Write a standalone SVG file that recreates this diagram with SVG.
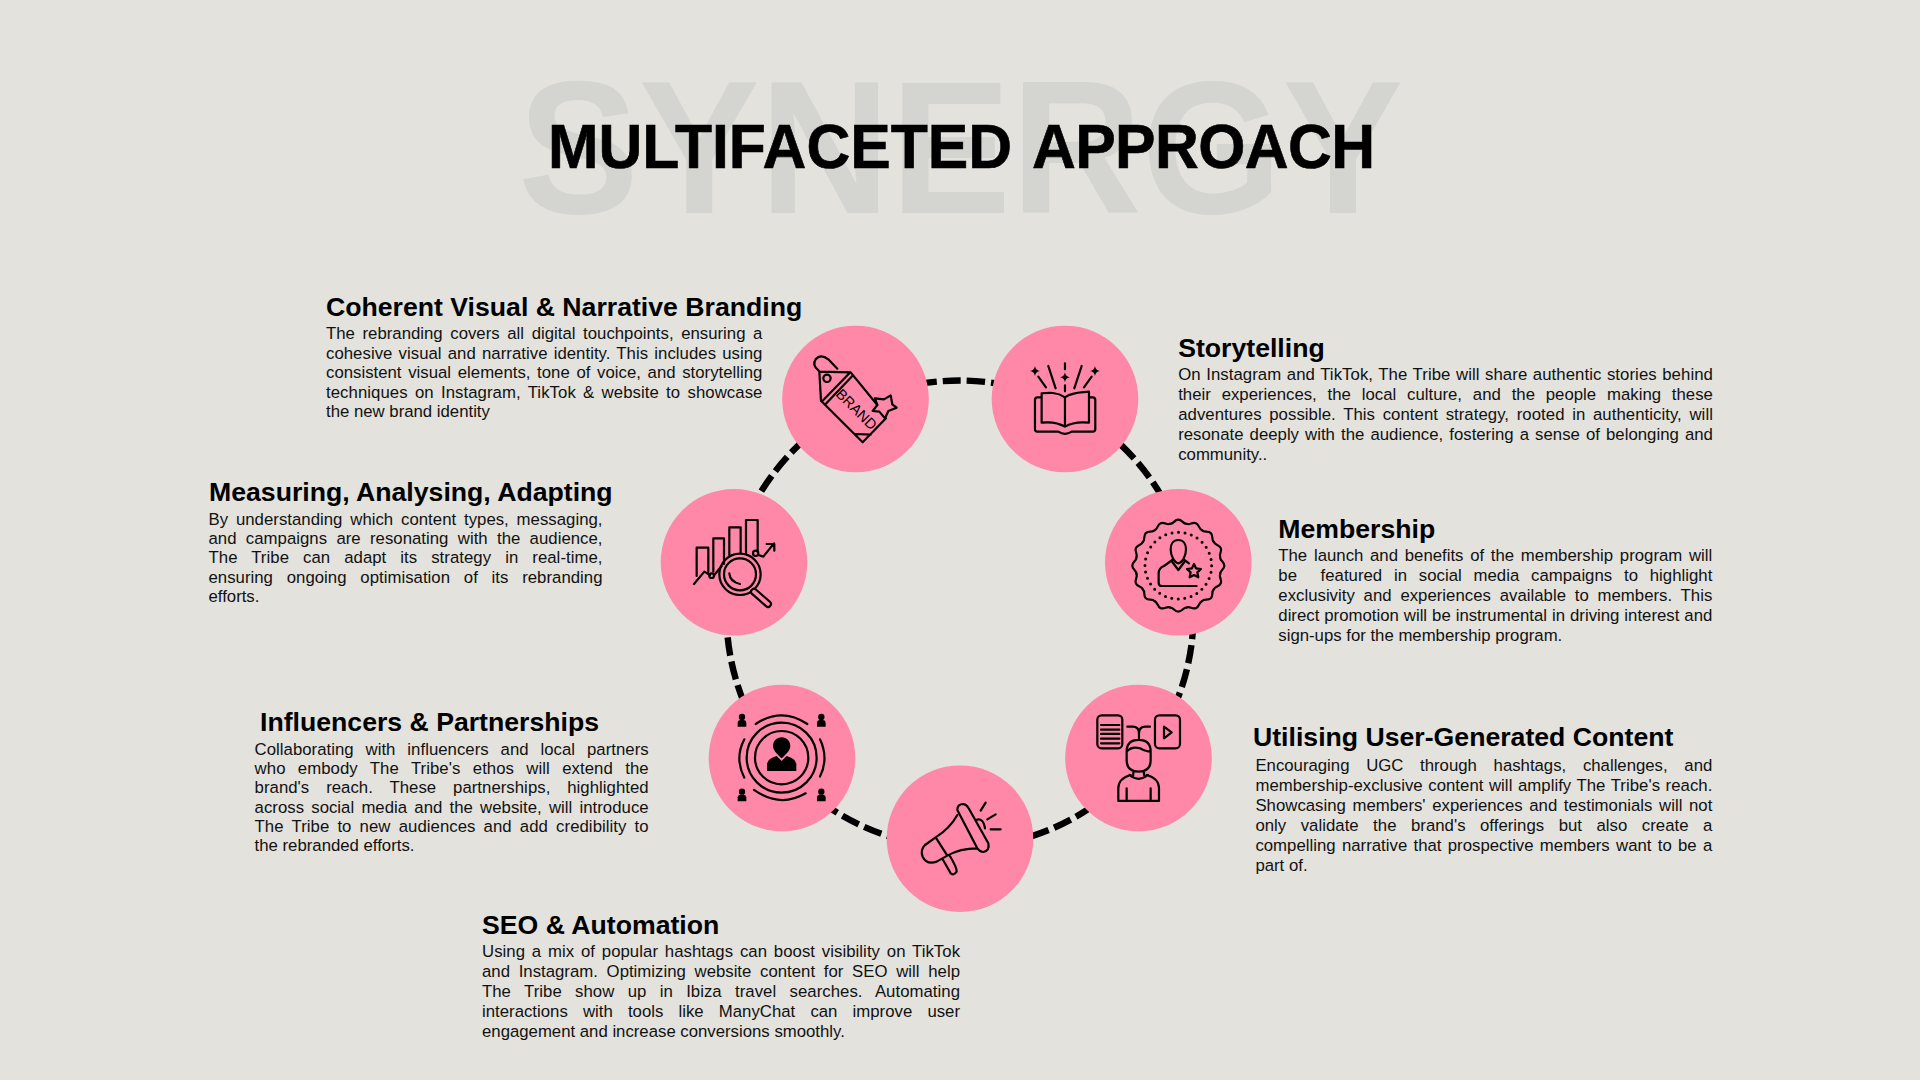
<svg xmlns="http://www.w3.org/2000/svg" width="1920" height="1080" viewBox="0 0 1920 1080">
<style>
text{font-family:"Liberation Sans",Arial,sans-serif;fill:#000;white-space:pre}
.h{font-size:26.65px;font-weight:700}
.b{font-size:16.75px;fill:#111}
.n{fill:#ff87a8}
.i{fill:none;stroke:#000;stroke-width:6.6;stroke-linecap:round;stroke-linejoin:round}
.f{fill:#000;stroke:none}
</style>
<defs>
<path id="lobe" d="M-25,-125.5C-14,-125 -12,-138 0,-138C12,-138 14,-125 25,-125.5"/>
<path id="spark" class="f" d="M0,-15Q2,-2 15,0Q2,2 0,15Q-2,2 -15,0Q-2,-2 0,-15Z"/>
<g id="mini" class="f"><circle cx="0" cy="0" r="9.5"/><path d="M-13,29V17Q-13,10 -5,9H5Q13,10 13,17V29Z"/></g>
</defs>
<rect width="1920" height="1080" fill="#e3e2dd"/>
<g id="title">
<text transform="translate(518 213) scale(1 1.05)" style="font-size:181px;font-weight:700;fill:#d4d4d0">SYNERGY</text>
<text transform="translate(548 168) scale(1 1.05)" style="font-size:60.7px;font-weight:700;stroke:#000;stroke-width:.6">MULTIFACETED <tspan x="484" letter-spacing="-.6">APPROACH</tspan></text>
</g>
<g id="connectors">
<circle cx="960" cy="614" r="233.5" fill="none" stroke="#000" stroke-width="6.4" stroke-dasharray="18.45 6" stroke-dashoffset="-6.7" transform="rotate(-90 960 614)"/>
</g>
<g id="node-branding">
<circle class="n" cx="855.5" cy="399" r="73.3"/>
<g transform="translate(760 310) scale(.3333)">
<path class="i" d="M178,185L183,272L308,397L378,325M352,285L272,187L178,185M188,272L268,190M197,282L277,198M287,372L332,374M176,182Q155,165 167,148Q182,130 205,148L232,176"/>
<circle class="i" cx="201" cy="205" r="11"/>
<path class="i" d="M345,265L372,268L392,256L397,283L410,293L385,303L375,325L358,305L338,303L352,285Z"/>
</g>
<text x="0" y="0" transform="translate(835 395) rotate(45)" style="font-size:14.5px">BRAND</text>
<text class="h" x="326" y="315.7">Coherent Visual &amp; Narrative Branding</text>
<text class="b" x="326" y="339" word-spacing="2.93" textLength="436.4">The rebranding covers all digital touchpoints, ensuring a</text>
<text class="b" x="326" y="358.8" word-spacing="1.47" textLength="436.4">cohesive visual and narrative identity. This includes using</text>
<text class="b" x="326" y="378.4" word-spacing="2" textLength="436.4">consistent visual elements, tone of voice, and storytelling</text>
<text class="b" x="326" y="398" word-spacing="2.53" textLength="436.4">techniques on Instagram, TikTok &amp; website to showcase</text>
<text class="b" x="326" y="417.2">the new brand identity</text>
</g>
<g id="node-storytelling">
<circle class="n" cx="1065" cy="399" r="73.3"/>
<g transform="translate(760 310) scale(.3333)">
<path class="i" d="M915,262C890,245 865,248 845,250V338C870,335 895,338 915,350C935,338 960,335 987,338V245C965,248 940,245 915,262ZM915,262V350M843,262H832Q825,262 825,270V358Q825,365 832,365H895Q915,378 935,365H998Q1006,365 1006,358V270Q1006,262 998,262H988M915,160V178M915,226V244M865,168L887,235M965,168L943,235M835,200L858,232M995,200L972,232"/>
<use href="#spark" x="825" y="183"/><use href="#spark" x="1005" y="183"/><use href="#spark" x="915" y="202"/>
</g>
<text class="h" x="1178.2" y="356.7">Storytelling</text>
<text class="b" x="1178.2" y="380" word-spacing="0.79" textLength="534.7">On Instagram and TikTok, The Tribe will share authentic stories behind</text>
<text class="b" x="1178.2" y="400" word-spacing="6.15" textLength="534.7">their experiences, the local culture, and the people making these</text>
<text class="b" x="1178.2" y="420" word-spacing="2.96" textLength="534.7">adventures possible. This content strategy, rooted in authenticity, will</text>
<text class="b" x="1178.2" y="440" word-spacing="1.43" textLength="534.7">resonate deeply with the audience, fostering a sense of belonging and</text>
<text class="b" x="1178.2" y="460">community..</text>
</g>
<g id="node-membership">
<circle class="n" cx="1178.3" cy="562.3" r="73.3"/>
<g transform="translate(1040 480) scale(.3333)">
<g class="i" transform="translate(415 257)">
<use href="#lobe"/><use href="#lobe" transform="rotate(22.5)"/><use href="#lobe" transform="rotate(45)"/><use href="#lobe" transform="rotate(67.5)"/><use href="#lobe" transform="rotate(90)"/><use href="#lobe" transform="rotate(112.5)"/><use href="#lobe" transform="rotate(135)"/><use href="#lobe" transform="rotate(157.5)"/><use href="#lobe" transform="rotate(180)"/><use href="#lobe" transform="rotate(202.5)"/><use href="#lobe" transform="rotate(225)"/><use href="#lobe" transform="rotate(247.5)"/><use href="#lobe" transform="rotate(270)"/><use href="#lobe" transform="rotate(292.5)"/><use href="#lobe" transform="rotate(315)"/><use href="#lobe" transform="rotate(337.5)"/>
</g>
<circle cx="415" cy="257" r="100" fill="none" stroke="#000" stroke-width="9" stroke-linecap="round" stroke-dasharray="0 19.63"/>
<path class="i" d="M415,180C400,180 392,192 392,208C392,226 402,248 415,250C428,248 438,226 438,208C438,192 430,180 415,180ZM397,240L372,258Q356,264 356,280V308Q356,318 366,318H470M433,240L447,250M397,246L415,270L433,246"/>
<path class="i" d="M462,252L468,265L483,267L472,277L475,292L462,285L449,292L452,277L441,267L456,265Z"/>
</g>
<text class="h" x="1278.3" y="538">Membership</text>
<text class="b" x="1278.3" y="560.7" word-spacing="2.03" textLength="434">The launch and benefits of the membership program will</text>
<text class="b" x="1278.3" y="580.7" word-spacing="7.15" textLength="434">be  featured in social media campaigns to highlight</text>
<text class="b" x="1278.3" y="600.7" word-spacing="4.1" textLength="434">exclusivity and experiences available to members. This</text>
<text class="b" x="1278.3" y="620.7" word-spacing="0.29" textLength="434">direct promotion will be instrumental in driving interest and</text>
<text class="b" x="1278.3" y="640.7">sign-ups for the membership program.</text>
</g>
<g id="node-ugc">
<circle class="n" cx="1138.5" cy="758" r="73.3"/>
<g transform="translate(1040 480) scale(.3333)">
<rect class="i" x="172" y="706" width="75" height="99" rx="13"/>
<rect class="i" x="345" y="706" width="75" height="99" rx="13"/>
<path class="i" d="M183,735H238M183,749H238M183,762H238M183,776H238M183,790H238M372,740L395,757L372,775ZM262,740H278Q297,740 297,760V780M330,740H316Q297,740 297,760M260,815Q260,780 296,780Q332,780 332,815V840Q332,875 296,875Q260,875 260,840ZM260,815Q275,798 300,805Q318,815 332,815M280,872V885M312,872V885M268,885Q296,908 324,885M235,963V925Q235,895 272,885M357,963V925Q357,895 320,885M235,963H357M260,925V963M332,925V963"/>
</g>
<text class="h" x="1253" y="745.7">Utilising User-Generated Content</text>
<text class="b" x="1255.4" y="770.7" word-spacing="12.06" textLength="456.9">Encouraging UGC through hashtags, challenges, and</text>
<text class="b" x="1255.4" y="790.7" word-spacing="0.85" textLength="456.9">membership-exclusive content will amplify The Tribe's reach.</text>
<text class="b" x="1255.4" y="810.7" word-spacing="1.93" textLength="456.9">Showcasing members' experiences and testimonials will not</text>
<text class="b" x="1255.4" y="830.7" word-spacing="9.81" textLength="456.9">only validate the brand's offerings but also create a</text>
<text class="b" x="1255.4" y="850.7" word-spacing="1.61" textLength="456.9">compelling narrative that prospective members want to be a</text>
<text class="b" x="1255.4" y="870.7">part of.</text>
</g>
<g id="node-seo">
<circle class="n" cx="960" cy="838.7" r="73.3"/>
<g transform="translate(870 760) scale(.3333)">
<path class="i" d="M262,150Q262,132 280,132Q290,134 296,145L355,250Q360,272 340,276Q330,276 322,265ZM262,165Q240,205 197,232L165,255Q150,270 158,290Q170,315 200,305L232,287Q270,265 322,265M197,232L232,287M218,298L242,340Q250,348 260,335Q262,325 238,285M318,180Q340,172 345,205M332,152L347,128M352,178L377,163M362,208H392"/>
</g>
<text class="h" x="482" y="934.2">SEO &amp; Automation</text>
<text class="b" x="482" y="957" word-spacing="2.06" textLength="478">Using a mix of popular hashtags can boost visibility on TikTok</text>
<text class="b" x="482" y="977" word-spacing="4.09" textLength="478">and Instagram. Optimizing website content for SEO will help</text>
<text class="b" x="482" y="997" word-spacing="8.63" textLength="478">The Tribe show up in Ibiza travel searches. Automating</text>
<text class="b" x="482" y="1017" word-spacing="10.5" textLength="478">interactions with tools like ManyChat can improve user</text>
<text class="b" x="482" y="1037">engagement and increase conversions smoothly.</text>
</g>
<g id="node-influencers">
<circle class="n" cx="782" cy="758" r="73.3"/>
<g transform="translate(650 480) scale(.3333)">
<circle class="i" cx="395" cy="833" r="80"/>
<circle class="i" cx="395" cy="833" r="105"/>
<path class="i" d="M317,732Q395,680 472,732M312,930Q390,985 467,940M283,778Q253,835 283,893M510,778Q537,835 510,890"/>
<path class="f" d="M395,772C380,772 369,784 369,798C369,812 385,826 395,835C405,826 421,812 421,798C421,784 410,772 395,772ZM351,873V852Q353,835 380,828L395,843L410,828Q437,835 439,852V873Z"/>
<use href="#mini" x="276" y="711"/><use href="#mini" x="514" y="711"/><use href="#mini" x="276" y="935"/><use href="#mini" x="514" y="935"/>
</g>
<text class="h" x="260" y="730.7">Influencers &amp; Partnerships</text>
<text class="b" x="254.6" y="755" word-spacing="7.23" textLength="394">Collaborating with influencers and local partners</text>
<text class="b" x="254.6" y="774.2" word-spacing="7.63" textLength="394">who embody The Tribe's ethos will extend the</text>
<text class="b" x="254.6" y="793.2" word-spacing="12.2" textLength="394">brand's reach. These partnerships, highlighted</text>
<text class="b" x="254.6" y="813" word-spacing="2.5" textLength="394">across social media and the website, will introduce</text>
<text class="b" x="254.6" y="832.2" word-spacing="3.47" textLength="394">The Tribe to new audiences and add credibility to</text>
<text class="b" x="254.6" y="851.4">the rebranded efforts.</text>
</g>
<g id="node-measuring">
<circle class="n" cx="734" cy="562.3" r="73.3"/>
<g transform="translate(650 480) scale(.3333)">
<path class="i" d="M140,288V203H175V275M190,275V175H222V252M238,225V142H272V218M288,220V120H323V215M132,312L163,275L180,285M193,285L215,258M325,225L340,230L372,190M350,192H373V212"/>
<circle class="i" cx="185" cy="287" r="7"/><circle class="i" cx="317" cy="220" r="8"/>
<circle class="i" cx="270" cy="283" r="62"/><circle class="i" cx="270" cy="283" r="48"/>
<path class="i" d="M238,280Q240,305 270,312"/>
<path d="M312,335L354,372" fill="none" stroke="#000" stroke-width="24" stroke-linecap="round"/>
<path d="M312,335L354,372" fill="none" stroke="#ff87a8" stroke-width="11" stroke-linecap="round"/>
</g>
<text class="h" x="209" y="500.7">Measuring, Analysing, Adapting</text>
<text class="b" x="208.5" y="525" word-spacing="3.13" textLength="394">By understanding which content types, messaging,</text>
<text class="b" x="208.5" y="544.2" word-spacing="4.62" textLength="394">and campaigns are resonating with the audience,</text>
<text class="b" x="208.5" y="563.4" word-spacing="9.29" textLength="394">The Tribe can adapt its strategy in real-time,</text>
<text class="b" x="208.5" y="583" word-spacing="9.09" textLength="394">ensuring ongoing optimisation of its rebranding</text>
<text class="b" x="208.5" y="602.3">efforts.</text>
</g>
</svg>
